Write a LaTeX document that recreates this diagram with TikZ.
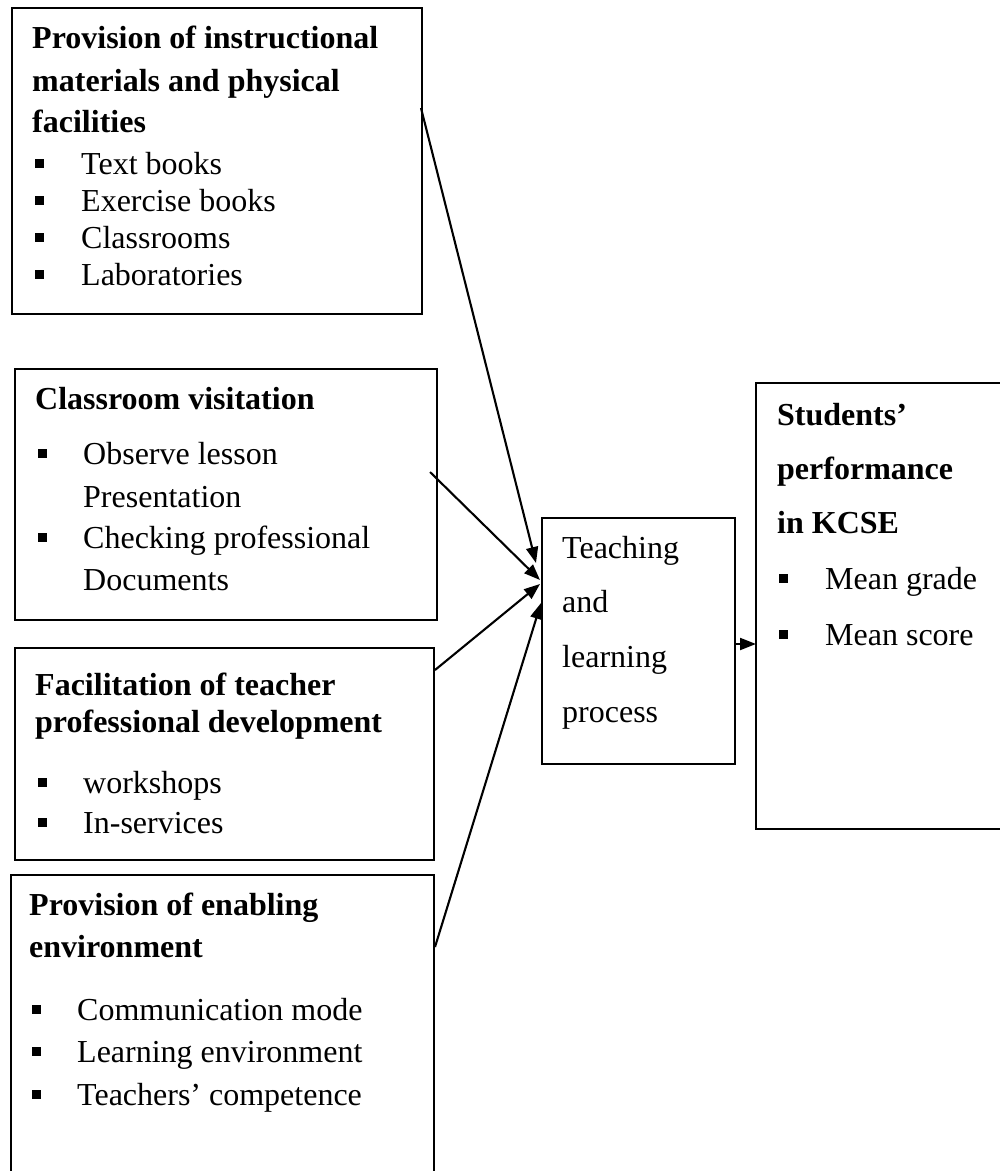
\documentclass[tikz,border=0pt]{standalone}
\usepackage{fontspec}
\setmainfont{Liberation Serif}
\usetikzlibrary{arrows.meta}
\newcommand{\sqbul}[2]{\fill (#1,#2-15) rectangle (#1+9,#2-6);}
\begin{document}
\begin{tikzpicture}[x=1pt,y=-1pt,
  box/.style={draw,line width=2pt,inner sep=0pt,anchor=north west},
  openbox/.style={inner sep=0pt,anchor=north west},
  edge/.style={line width=2pt},
  ttl/.style={anchor=base west,inner sep=0pt,font=\fontsize{32}{38}\selectfont\bfseries},
  itm/.style={anchor=base west,inner sep=0pt,font=\fontsize{32}{38}\selectfont},
  conn/.style={line width=2.1pt,-{Triangle[length=16pt,width=12pt]}}
]
\useasboundingbox (0,0) rectangle (1000,1171);

% boxes
\node[box,minimum width=410pt,minimum height=306pt] (b1) at (11,7) {};
\node[box,minimum width=422pt,minimum height=251pt] (b2) at (14,368) {};
\node[box,minimum width=419pt,minimum height=212pt] (b3) at (14,647) {};
\node[openbox,minimum width=423pt,minimum height=296pt] (b4) at (11,875) {};
\draw[edge] (b4.south west) -- (b4.north west) -- (b4.north east) -- (b4.south east);
\node[box,minimum width=193pt,minimum height=246pt] (tl) at (541,517) {};
\node[openbox,minimum width=244pt,minimum height=446pt] (rb) at (756,383) {};
\draw[edge] (rb.north east) -- (rb.north west) -- (rb.south west) -- (rb.south east);

% box 1 text
\node[ttl] (b1a) at (32,48) {Provision of instructional};
\node[ttl] (b1b) at (32,91) {materials and physical};
\node[ttl] (b1c) at (32,132) {facilities};
\node[itm] (b1d) at (81,174) {Text books};
\node[itm] (b1e) at (81,211) {Exercise books};
\node[itm] (b1f) at (81,248) {Classrooms};
\node[itm] (b1g) at (81,285) {Laboratories};
\sqbul{35}{174}\sqbul{35}{211}\sqbul{35}{248}\sqbul{35}{285}

% box 2 text
\node[ttl] (b2a) at (35,409) {Classroom visitation};
\node[itm] (b2b) at (83,464) {Observe lesson};
\node[itm] (b2c) at (83,507) {Presentation};
\node[itm] (b2d) at (83,548) {Checking professional};
\node[itm] (b2e) at (83,590) {Documents};
\sqbul{38}{464}\sqbul{38}{548}

% box 3 text
\node[ttl] (b3a) at (35,695) {Facilitation of teacher};
\node[ttl] (b3b) at (35,732) {professional development};
\node[itm] (b3c) at (83,793) {workshops};
\node[itm] (b3d) at (83,833) {In-services};
\sqbul{38}{793}\sqbul{38}{833}

% box 4 text
\node[ttl] (b4a) at (29,915) {Provision of enabling};
\node[ttl] (b4b) at (29,957) {environment};
\node[itm] (b4c) at (77,1020) {Communication mode};
\node[itm] (b4d) at (77,1062) {Learning environment};
\node[itm] (b4e) at (77,1105) {Teachers’ competence};
\sqbul{32}{1020}\sqbul{32}{1062}\sqbul{32}{1105}

% middle box text
\node[itm] (tla) at (562,558) {Teaching};
\node[itm] (tlb) at (562,612) {and};
\node[itm] (tlc) at (562,667) {learning};
\node[itm] (tld) at (562,722) {process};

% right box text
\node[ttl] (rba) at (777,425) {Students’};
\node[ttl] (rbb) at (777,479) {performance};
\node[ttl] (rbc) at (777,533) {in KCSE};
\node[itm] (rbd) at (825,589) {Mean grade};
\node[itm] (rbe) at (825,645) {Mean score};
\sqbul{779}{589}\sqbul{779}{645}

% connectors
\coordinate (s1) at (421,108); \coordinate (e1) at (536,563);
\coordinate (s2) at (430,472); \coordinate (e2) at (540,580);
\coordinate (s3) at (435,670); \coordinate (e3) at (540,584);
\coordinate (s4) at (435,947); \coordinate (e4) at (541,603);
\coordinate (o1) at (734,644);
\draw[conn] (s1) -- (e1);
\draw[conn] (s2) -- (e2);
\draw[conn] (s3) -- (e3);
\draw[conn] (s4) -- (e4);
\draw[conn] (o1) -- (o1 -| rb.west);
\end{tikzpicture}
\end{document}
